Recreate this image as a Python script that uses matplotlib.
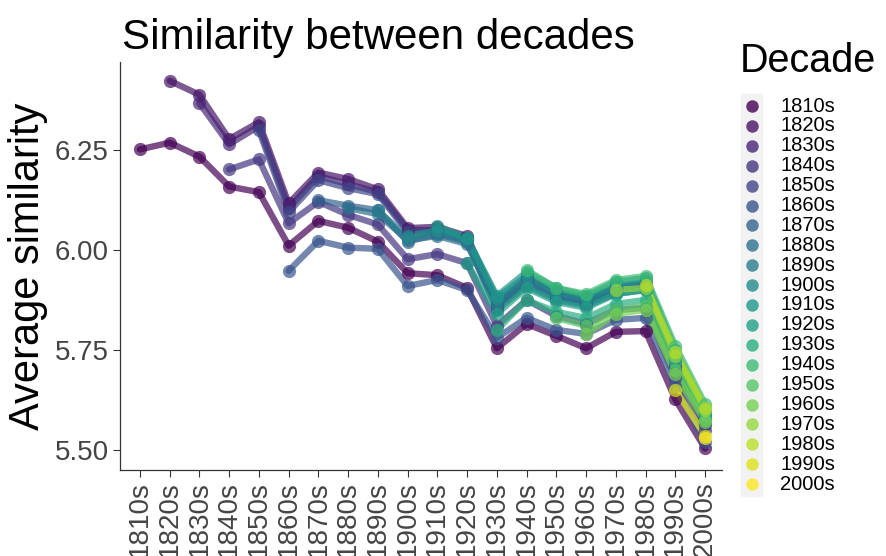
import matplotlib.pyplot as plt
import numpy as np
from matplotlib.patches import Rectangle

plt.rcParams['font.family'] = ['Liberation Sans', 'DejaVu Sans']

decades = ["1810s", "1820s", "1830s", "1840s", "1850s", "1860s", "1870s",
           "1880s", "1890s", "1900s", "1910s", "1920s", "1930s", "1940s",
           "1950s", "1960s", "1970s", "1980s", "1990s", "2000s"]

# similarity of each decade with itself and the later decades
s1810 = [6.252, 6.269, 6.234, 6.159, 6.145, 6.011, 6.073, 6.056, 6.021, 5.942,
         5.937, 5.905, 5.754, 5.815, 5.785, 5.754, 5.795, 5.797, 5.626, 5.503]
s1820 = [6.424, 6.389, 6.278, 6.320, 6.117, 6.194, 6.178, 6.152, 6.055, 6.058,
         6.035, 5.865, 5.930, 5.895, 5.875, 5.905, 5.915, 5.700, 5.565]
s1830 = [6.368, 6.265, 6.310, 6.105, 6.185, 6.165, 6.145, 6.050, 6.050, 6.030,
         5.860, 5.925, 5.890, 5.870, 5.900, 5.910, 5.710, 5.575]
s1840 = [6.202, 6.227, 6.067, 6.121, 6.088, 6.064, 5.977, 5.990, 5.967, 5.810,
         5.875, 5.835, 5.815, 5.850, 5.855, 5.680, 5.550]
s1850 = [6.300, 6.095, 6.175, 6.155, 6.140, 6.045, 6.045, 6.025, 5.855, 5.920,
         5.885, 5.865, 5.900, 5.910, 5.700, 5.565]
s1860 = [5.948, 6.023, 6.006, 6.003, 5.910, 5.925, 5.900, 5.780, 5.830, 5.800,
         5.790, 5.825, 5.830, 5.660, 5.520]
s1870 = [6.125, 6.111, 6.100, 6.021, 6.040, 6.020, 5.850, 5.910, 5.875, 5.860,
         5.890, 5.900, 5.720, 5.580]
s1880 = [6.105, 6.090, 6.025, 6.035, 6.015, 5.860, 5.915, 5.880, 5.865, 5.895,
         5.905, 5.725, 5.585]
s1890 = [6.100, 6.030, 6.045, 6.025, 5.870, 5.925, 5.890, 5.875, 5.905, 5.915,
         5.735, 5.590]
s1900 = [6.035, 6.050, 6.030, 5.880, 5.935, 5.895, 5.880, 5.910, 5.920, 5.740,
         5.595]
s1910 = [6.060, 6.030, 5.885, 5.945, 5.905, 5.885, 5.920, 5.930, 5.750, 5.605]
s1920 = [5.967, 5.840, 5.905, 5.870, 5.855, 5.890, 5.900, 5.740, 5.600]
s1930 = [5.800, 5.875, 5.845, 5.830, 5.865, 5.875, 5.720, 5.590]
s1940 = [5.950, 5.905, 5.890, 5.925, 5.935, 5.760, 5.615]
s1950 = [5.830, 5.810, 5.850, 5.860, 5.700, 5.575]
s1960 = [5.790, 5.840, 5.850, 5.690, 5.570]
s1970 = [5.900, 5.905, 5.735, 5.600]
s1980 = [5.912, 5.745, 5.605]
s1990 = [5.650, 5.535]
s2000 = [5.530]

series = [s1810, s1820, s1830, s1840, s1850, s1860, s1870, s1880, s1890, s1900,
          s1910, s1920, s1930, s1940, s1950, s1960, s1970, s1980, s1990, s2000]

colors = plt.cm.viridis(np.linspace(0, 1, len(decades)))

fig = plt.figure(figsize=(8.86, 5.56), dpi=100)
ax = fig.add_axes([120 / 886, 86 / 556, 602 / 886, 408 / 556])

n = len(decades)
for i, vals in enumerate(series):
    x = np.arange(n - len(vals), n)
    ax.plot(x, vals, color=colors[i], lw=4.6, alpha=0.7, solid_capstyle='round', zorder=2)
for i, vals in enumerate(series):
    x = np.arange(n - len(vals), n)
    ax.plot(x, vals, 'o', color=colors[i], ms=9.5, alpha=0.7, mec='none', zorder=3)

ax.set_xlim(-0.67, n - 1 + 0.57)
ax.set_ylim(5.449, 6.471)
ax.set_xticks(np.arange(n))
ax.set_xticklabels(decades, rotation=90, fontsize=20, color='#444444')
ax.set_yticks([5.5, 5.75, 6.0, 6.25])
ax.set_yticklabels(["5.50", "5.75", "6.00", "6.25"], fontsize=20, color='#444444')
ax.tick_params(length=5, width=0.8, color='#333333', pad=3)
ax.spines['top'].set_visible(False)
ax.spines['right'].set_visible(False)
for s in ['left', 'bottom']:
    ax.spines[s].set_linewidth(0.9)
    ax.spines[s].set_color('#333333')

fig.text(122 / 886, 1 - 49 / 556, "Similarity between decades", fontsize=30.3,
         va='baseline', ha='left')
fig.text(28 / 886, 1 - 266 / 556, "Average similarity", fontsize=30,
         rotation=90, va='center', ha='center')

# legend
fig.text(740 / 886, 1 - 72 / 556, "Decade", fontsize=28.5, va='baseline', ha='left')
fig.add_artist(Rectangle((741 / 886, 1 - 496 / 556), 21 / 886, 402 / 556,
                         transform=fig.transFigure, color='#f2f2f2', zorder=0))
for i, d in enumerate(decades):
    yy = 1 - (106 + i * 19.9) / 556
    fig.add_artist(plt.Line2D([752 / 886], [yy], marker='o', ms=9, color=colors[i],
                              alpha=0.8, mec='none', transform=fig.transFigure))
    fig.text(780 / 886, yy, d, fontsize=14.5, va='center', ha='left')

fig.savefig("out.png", dpi=100)
